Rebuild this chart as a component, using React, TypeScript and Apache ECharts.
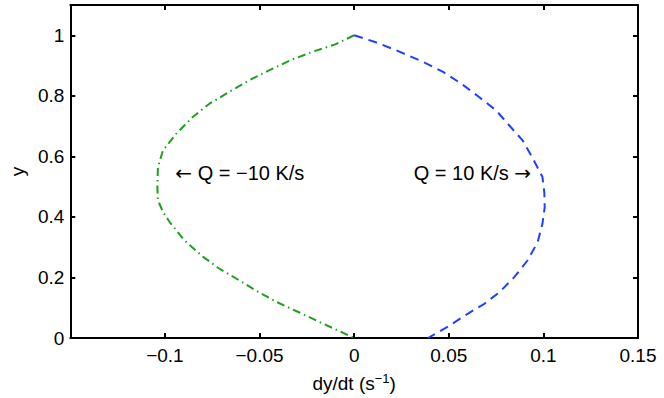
import React, { useEffect, useRef } from "react";
import * as echarts from "echarts";

// Q = -10 K/s (green, dash-dot)
const greenX = [0, -0.010, -0.0213, -0.0327, -0.045, -0.0555, -0.066, -0.0765, -0.0853, -0.094, -0.101, -0.1037, -0.104, -0.1037, -0.101, -0.0975, -0.0896, -0.080, -0.0704, -0.059, -0.052, -0.0406, -0.0292, -0.017, -0.0065, 0];
const greenY = [1.0, 0.970, 0.947, 0.92, 0.884, 0.851, 0.813, 0.774, 0.73, 0.675, 0.62, 0.565, 0.5, 0.455, 0.416, 0.383, 0.322, 0.269, 0.2255, 0.184, 0.157, 0.118, 0.085, 0.049, 0.019, 0];

// Q = 10 K/s (blue, dashed)
const blueX = [0, 0.011, 0.0224, 0.0365, 0.047, 0.0566, 0.066, 0.075, 0.082, 0.089, 0.094, 0.0995, 0.1005, 0.1007, 0.0995, 0.097, 0.0916, 0.0846, 0.0767, 0.0688, 0.060, 0.0504, 0.039];
const blueY = [1.0, 0.978, 0.95, 0.912, 0.879, 0.84, 0.796, 0.752, 0.702, 0.653, 0.598, 0.532, 0.48, 0.432, 0.377, 0.317, 0.256, 0.201, 0.151, 0.113, 0.08, 0.041, 0];

const labelLeft = "{arr|\u2190} Q = \u221210 K/s";
const labelRight = "Q = 10 K/s {arr|\u2192}";
const labelLeftPos = [-0.0945, 0.545];
const labelRightPos = [0.0935, 0.545];

const xMin = -0.15, xMax = 0.15, xStep = 0.05;
const yMin = 0, yMax = 1.1, yStep = 0.2;

const FONT = "'Liberation Sans', Arial, Helvetica, sans-serif";
const FS = 19;
const FS_ANN = 20;

const zip = (xs: number[], ys: number[]) => xs.map((x, i) => [x, ys[i]]);

const fmt = (v: number) => {
  const s = String(parseFloat(v.toFixed(3)));
  return s.replace("-", "\u2212");
};

const arrowRich = { arr: { fontFamily: "'DejaVu Sans'", fontSize: 20, color: "#000" } };

export default function App() {
  const ref = useRef<HTMLDivElement>(null);
  useEffect(() => {
    if (!ref.current) return;
    const chart = echarts.init(ref.current, null, { renderer: "svg" });
    const axisLine = { show: true, onZero: false, lineStyle: { color: "#000", width: 2 } };
    const axisTick = { show: true, inside: true, length: 5, lineStyle: { color: "#000", width: 2 } };
    chart.setOption({
      animation: false,
      backgroundColor: "#fff",
      grid: { left: 68, right: 26, top: 5, bottom: 60, containLabel: false },
      xAxis: [
        {
          type: "value", position: "bottom", min: xMin, max: xMax, interval: xStep,
          axisLine, axisTick, splitLine: { show: false },
          axisLabel: {
            color: "#000", fontSize: FS, fontFamily: FONT, margin: 8,
            formatter: (v: number) => (v < xMin + 1e-6 ? "" : fmt(v)),
          },
          name: "dy/dt (s{sup|\u22121})",
          nameLocation: "middle", nameGap: 34,
          nameTextStyle: {
            color: "#000", fontSize: FS, fontFamily: FONT,
            rich: { sup: { fontSize: 13, fontFamily: FONT, color: "#000", verticalAlign: "top", padding: [0, 0, 9, 0] } },
          },
        },
        {
          type: "value", position: "top", min: xMin, max: xMax, interval: xStep,
          axisLine, axisTick, axisLabel: { show: false }, splitLine: { show: false },
        },
      ],
      yAxis: [
        {
          type: "value", position: "left", min: yMin, max: yMax, interval: yStep,
          axisLine, axisTick, splitLine: { show: false },
          axisLabel: {
            color: "#000", fontSize: FS, fontFamily: FONT, margin: 6,
            formatter: (v: number) => (v > 1.05 ? "" : fmt(v)),
          },
          name: "y", nameLocation: "middle", nameGap: 41, nameRotate: 90,
          nameTextStyle: { color: "#000", fontSize: FS, fontFamily: FONT },
        },
        {
          type: "value", position: "right", min: yMin, max: yMax, interval: yStep,
          axisLine, axisTick, axisLabel: { show: false }, splitLine: { show: false },
        },
      ],
      series: [
        {
          name: "Q = -10 K/s", type: "line", data: zip(greenX, greenY),
          showSymbol: false, symbol: "none",
          lineStyle: { color: "#1ea01e", width: 2, type: [8, 4, 1.5, 4] },
          markPoint: {
            symbol: "circle", symbolSize: 0,
            data: [{ coord: labelLeftPos, value: 0 }],
            label: { show: true, position: "right", distance: 0, formatter: labelLeft, color: "#000", fontSize: FS_ANN, fontFamily: FONT, rich: arrowRich },
          },
        },
        {
          name: "Q = 10 K/s", type: "line", data: zip(blueX, blueY),
          showSymbol: false, symbol: "none",
          lineStyle: { color: "#2040ff", width: 2, type: [9, 6] },
          markPoint: {
            symbol: "circle", symbolSize: 0,
            data: [{ coord: labelRightPos, value: 0 }],
            label: { show: true, position: "left", distance: 0, formatter: labelRight, color: "#000", fontSize: FS_ANN, fontFamily: FONT, rich: arrowRich },
          },
        },
      ],
    });
    return () => chart.dispose();
  }, []);
  return <div ref={ref} style={{ position: "fixed", left: 0, top: 0, width: 664, height: 398 }} />;
}
